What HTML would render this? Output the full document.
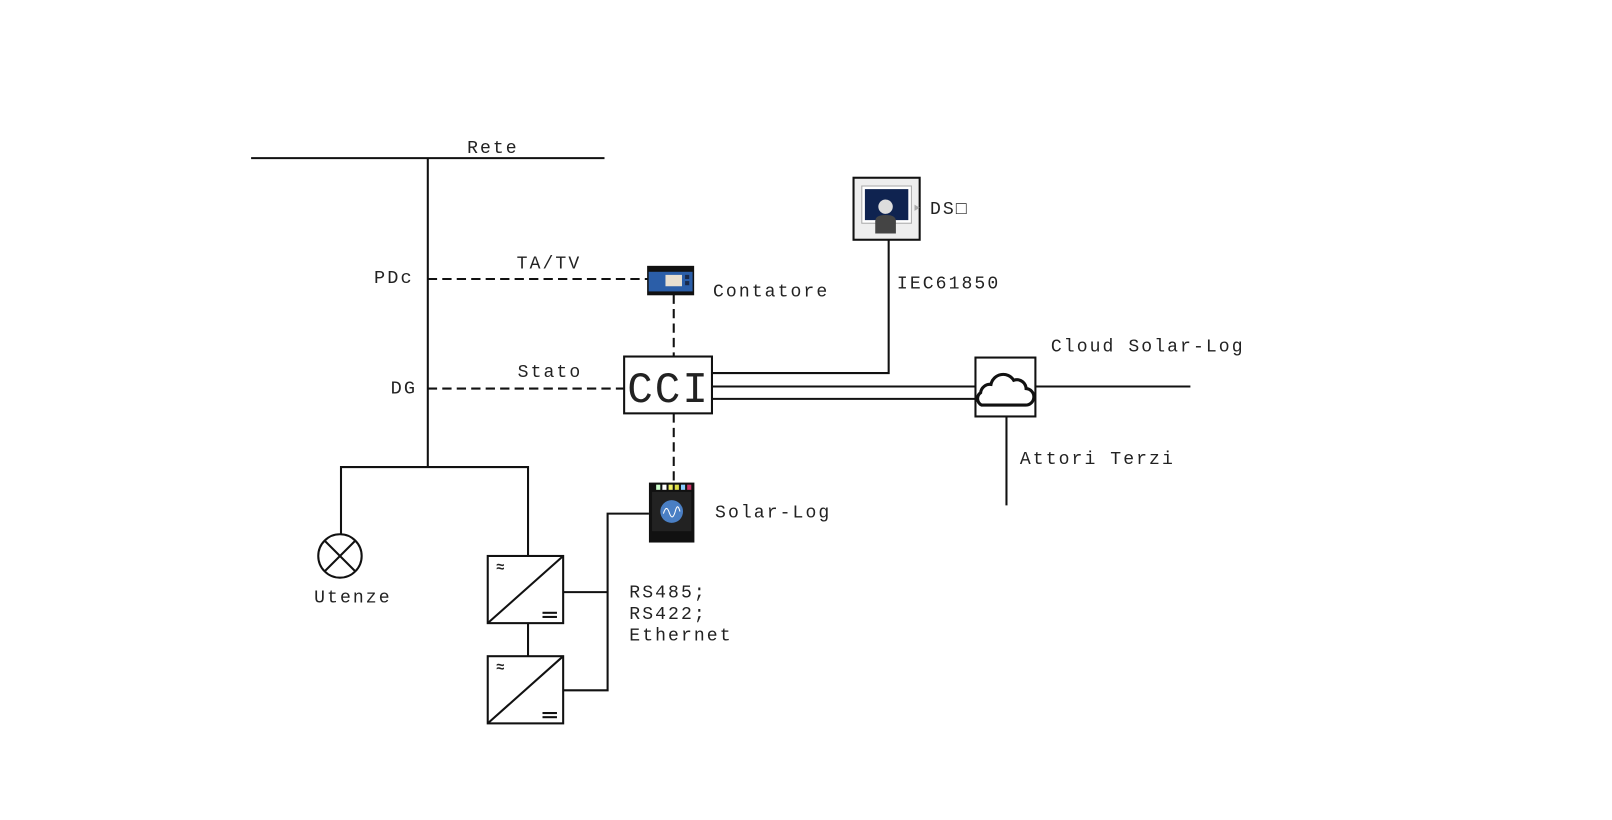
<!DOCTYPE html>
<html><head><meta charset="utf-8">
<style>
html,body{margin:0;padding:0;background:#fff;}
svg{display:block;}
text{font-family:"Liberation Mono",monospace;font-size:17.5px;fill:#222;letter-spacing:2.0px;}
</style></head>
<body>
<svg width="1612" height="820" viewBox="0 0 1560 793.5" preserveAspectRatio="none" xmlns="http://www.w3.org/2000/svg">
<g stroke="#111" stroke-width="2" fill="none">
  <line x1="243" y1="153" x2="585" y2="153"/>
  <line x1="414" y1="153" x2="414" y2="452"/>
  <line x1="414" y1="270" x2="627" y2="270" stroke-dasharray="9,5"/>
  <line x1="414" y1="376" x2="604" y2="376" stroke-dasharray="9,5"/>
  <line x1="652" y1="285" x2="652" y2="345" stroke-dasharray="9,5"/>
  <line x1="652" y1="400" x2="652" y2="467" stroke-dasharray="9,5"/>
  <rect x="604" y="345" width="85" height="55"/>
  <polyline points="689,361 860,361 860,232"/>
  <line x1="689" y1="374" x2="944" y2="374"/>
  <line x1="689" y1="386" x2="944" y2="386"/>
  <rect x="944" y="346" width="58" height="57"/>
  <line x1="1002" y1="374" x2="1152" y2="374"/>
  <line x1="974" y1="403" x2="974" y2="489"/>
  <path d="M950,392 h42 a8,8 0 0 0 1,-16 a9,9 0 0 0 -12,-8 a12,12 0 0 0 -22,4 a9,9 0 0 0 -10,8 a7,7 0 0 0 1,12 z" stroke-width="3"/>
  <polyline points="330,517 330,452 511,452 511,538"/>
  <circle cx="329" cy="538" r="21"/>
  <line x1="314" y1="523" x2="344" y2="553"/>
  <line x1="344" y1="523" x2="314" y2="553"/>
  <rect x="472" y="538" width="73" height="65"/>
  <line x1="472" y1="603" x2="545" y2="538"/>
  <line x1="525" y1="593" x2="539" y2="593"/><line x1="525" y1="597" x2="539" y2="597"/>
  <line x1="511" y1="603" x2="511" y2="635"/>
  <rect x="472" y="635" width="73" height="65"/>
  <line x1="472" y1="700" x2="545" y2="635"/>
  <line x1="525" y1="690" x2="539" y2="690"/><line x1="525" y1="694" x2="539" y2="694"/>
  <polyline points="545,573 588,573"/>
  <polyline points="545,668 588,668 588,497 628,497"/>
  <rect x="826" y="172" width="64" height="60" fill="#eee"/>
</g>
<text x="480" y="553" style="font-size:14px;letter-spacing:0;font-weight:bold">≈</text>
<text x="480" y="650" style="font-size:14px;letter-spacing:0;font-weight:bold">≈</text>
<rect x="834" y="180" width="48" height="36" fill="#fff" stroke="#aaa"/>
<rect x="837" y="183" width="42" height="30" fill="#0f2350"/>
<circle cx="857" cy="200" r="7" fill="#ddd"/>
<path d="M847,226 v-12 q0,-6 10,-6 q10,0 10,6 v12 z" fill="#444"/>
<path d="M890,201 l-5,-3 v6 z" fill="#aaa"/>
<rect x="627" y="258" width="44" height="27" fill="#2b5ea8" stroke="#111" stroke-width="1.5"/>
<rect x="627" y="258" width="44" height="5" fill="#111"/>
<rect x="644" y="266" width="16" height="11" fill="#e8dfd0"/>
<rect x="663" y="266" width="4" height="4" fill="#1a2a4a"/><rect x="663" y="272" width="4" height="4" fill="#1a2a4a"/>
<rect x="627" y="282" width="44" height="3" fill="#111"/>
<rect x="628" y="467" width="44" height="58" fill="#111"/>
<rect x="635" y="469" width="4" height="5" fill="#cfc"/><rect x="641" y="469" width="4" height="5" fill="#fff"/><rect x="647" y="469" width="4" height="5" fill="#ee6"/><rect x="653" y="469" width="4" height="5" fill="#dd4"/><rect x="659" y="469" width="4" height="5" fill="#8cf"/><rect x="665" y="469" width="4" height="5" fill="#c36"/>
<rect x="631" y="476" width="38" height="38" fill="#222"/>
<circle cx="650" cy="495" r="11" fill="#4a7fc4"/>
<path d="M642,497 q3,-10 6,0 q3,8 6,-4 q2,-6 4,2" stroke="#fff" stroke-width="1" fill="none"/>
<text x="607" y="389" style="font-size:42px;letter-spacing:2px" textLength="80" lengthAdjust="spacingAndGlyphs">CCI</text>
<text x="452" y="148">Rete</text>
<text x="362" y="274" style="font-size:18px">PDc</text>
<text x="378" y="381" style="font-size:18px">DG</text>
<text x="500" y="260">TA/TV</text>
<text x="501" y="365">Stato</text>
<text x="690" y="287">Contatore</text>
<text x="900" y="207">DS□</text>
<text x="868" y="279">IEC61850</text>
<text x="1017" y="340">Cloud Solar-Log</text>
<text x="987" y="449">Attori Terzi</text>
<text x="692" y="501">Solar-Log</text>
<text x="304" y="583">Utenze</text>
<text x="609" y="578">RS485;</text>
<text x="609" y="599">RS422;</text>
<text x="609" y="620">Ethernet</text>
</svg>
</body></html>
